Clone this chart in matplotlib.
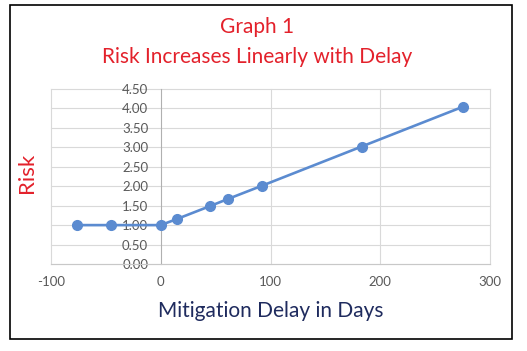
import matplotlib.pyplot as plt
from matplotlib.patches import Rectangle

# data
delay_days = [-76, -45, 0, 15, 45, 61, 92, 183, 275]
risk = [1.0, 1.0, 1.0, 1.16, 1.49, 1.67, 2.01, 3.02, 4.04]
x_ticks = [-100, 0, 100, 200, 300]
y_ticks = [0.0, 0.5, 1.0, 1.5, 2.0, 2.5, 3.0, 3.5, 4.0, 4.5]

plt.rcParams['font.family'] = ['Lato', 'DejaVu Sans']
plt.rcParams['axes.unicode_minus'] = False
red = '#e3212b'
navy = '#1f2b5e'
blue = '#5b8bd0'
grid = '#d9d9d9'

fig = plt.figure(figsize=(5.27, 3.51), dpi=100)
ax = fig.add_axes([51/527, 1-264/351, (490-51)/527, (264-89)/351])

# outer frame
fig.patches.append(Rectangle((10/527, 1-339/351), 502/527, 334/351, transform=fig.transFigure,
                             fill=False, edgecolor='black', linewidth=1.2))

ax.set_xlim(-100, 300)
ax.set_ylim(0, 4.5)
ax.set_xticks(x_ticks)
ax.set_yticks(y_ticks)
ax.set_yticklabels([f"{v:.2f}" for v in y_ticks])

for x in x_ticks:
    if x != 0:
        ax.axvline(x, color=grid, lw=0.8, zorder=0, clip_on=False)
for y in y_ticks:
    ax.axhline(y, color=grid, lw=0.8, zorder=0, clip_on=False)

for s in ['top', 'right']:
    ax.spines[s].set_visible(False)
ax.spines['left'].set_position(('data', 0))
ax.spines['left'].set_color('#b0b0b0')
ax.spines['bottom'].set_color('#c8c8c8')
ax.tick_params(length=0, labelsize=9.5, labelcolor='#595959', pad=9)

ax.plot(delay_days, risk, '-o', color=blue, lw=1.9, markersize=7, zorder=3, clip_on=False)

fig.text(257/527, 1-27/351, 'Graph 1', color=red, fontsize=15, ha='center', va='center')
fig.text(257/527, 1-57/351, 'Risk Increases Linearly with Delay', color=red, fontsize=15, ha='center', va='center')
fig.text(27/527, 1-173/351, 'Risk', color=red, fontsize=16, rotation=90, ha='center', va='center')
fig.text(271/527, 1-311/351, 'Mitigation Delay in Days', color=navy, fontsize=15, ha='center', va='center')

fig.savefig('out.png', dpi=100)
